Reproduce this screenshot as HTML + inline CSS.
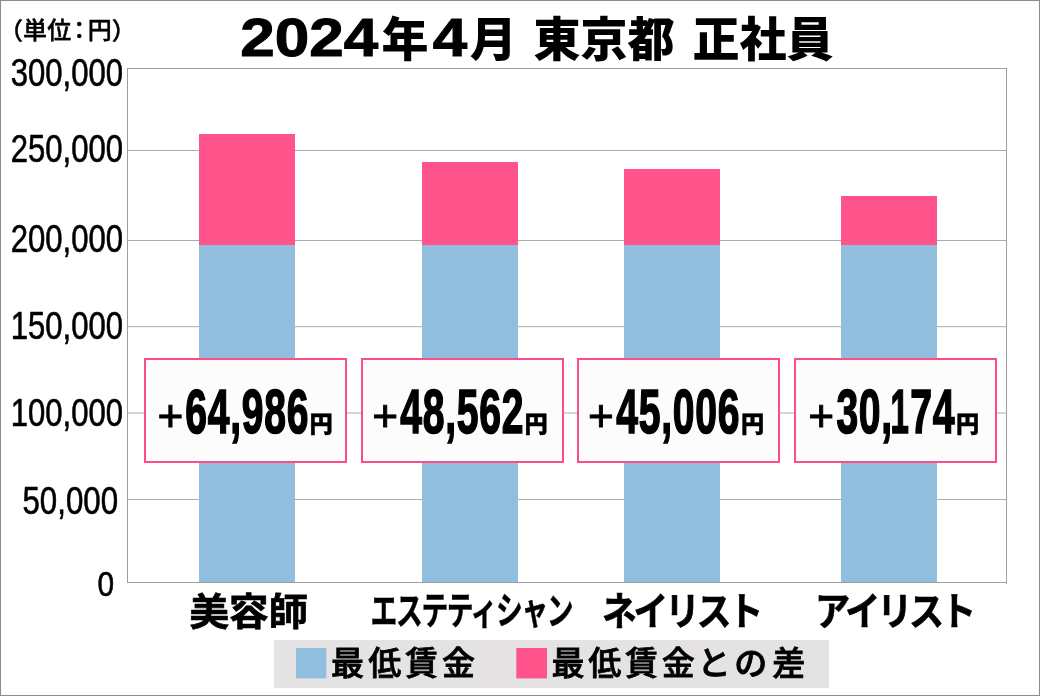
<!DOCTYPE html>
<html lang="ja">
<head>
<meta charset="utf-8">
<title>2024年4月 東京都 正社員</title>
<style>
html,body{margin:0;padding:0;background:#fff;}
body{width:1040px;height:696px;overflow:hidden;}
svg{display:block;}
.lat{font-family:"Liberation Sans",sans-serif;}
.cjk{font-family:"Liberation Sans","Noto Sans CJK JP",sans-serif;}
</style>
</head>
<body>
<svg width="1040" height="696" viewBox="0 0 1040 696">
<rect x="0" y="0" width="1040" height="696" fill="#ffffff"/>

<!-- gridlines -->
<g stroke="#acacac" stroke-width="1" fill="none" shape-rendering="crispEdges">
<line x1="127" y1="68.5" x2="1007" y2="68.5" stroke="#9e9e9e"/>
<line x1="127" y1="150.5" x2="1007" y2="150.5"/>
<line x1="127" y1="240.5" x2="1007" y2="240.5"/>
<line x1="127" y1="326.7" x2="1007" y2="326.7" shape-rendering="auto"/>
<line x1="127" y1="413" x2="1007" y2="413" shape-rendering="auto"/>
<line x1="127" y1="499.5" x2="1007" y2="499.5"/>
<line x1="127.5" y1="68" x2="127.5" y2="583" stroke="#9e9e9e"/>
<line x1="1006.5" y1="68" x2="1006.5" y2="584" stroke="#9e9e9e"/>
</g>

<!-- bars -->
<g shape-rendering="crispEdges">
<rect x="199" y="134" width="96" height="111" fill="#fe548b"/>
<rect x="199" y="245" width="96" height="337.5" fill="#92bede"/>
<rect x="422" y="162" width="96" height="83" fill="#fe548b"/>
<rect x="422" y="245" width="96" height="337.5" fill="#92bede"/>
<rect x="624" y="169" width="96" height="76" fill="#fe548b"/>
<rect x="624" y="245" width="96" height="337.5" fill="#92bede"/>
<rect x="841" y="196" width="96" height="49" fill="#fe548b"/>
<rect x="841" y="245" width="96" height="337.5" fill="#92bede"/>
</g>
<line x1="127" y1="582.5" x2="1007" y2="582.5" stroke="#a0a0a0" stroke-width="1" shape-rendering="crispEdges"/>

<!-- y axis labels -->
<g class="lat" font-size="38.6" fill="#000" text-anchor="end" stroke="#000" stroke-width="0.6">
<text x="123" y="86.3" textLength="112.2" lengthAdjust="spacingAndGlyphs">300,000</text>
<text x="123" y="162.4" textLength="112.2" lengthAdjust="spacingAndGlyphs">250,000</text>
<text x="123" y="252.3" textLength="112.2" lengthAdjust="spacingAndGlyphs">200,000</text>
<text x="123" y="339" textLength="112.2" lengthAdjust="spacingAndGlyphs">150,000</text>
<text x="123" y="425.5" textLength="112.2" lengthAdjust="spacingAndGlyphs">100,000</text>
<text x="118" y="514.4" textLength="95.5" lengthAdjust="spacingAndGlyphs">50,000</text>
<text x="114.2" y="596.1" font-size="35.2" textLength="16.6" lengthAdjust="spacingAndGlyphs">0</text>
</g>

<!-- unit -->
<text class="cjk" font-size="24" font-weight="500" fill="#000" stroke="#000" stroke-width="0.45" y="38.6" x="-1 23 47.3 67.3 87.7 111.7">（単位：円）</text>

<!-- title -->
<text class="cjk" fill="#000" font-weight="900" font-size="47" y="56.3"><tspan class="lat" font-weight="700" font-size="54.5" x="240.3" y="56.2" textLength="138" lengthAdjust="spacingAndGlyphs" stroke="#000" stroke-width="1">2024</tspan><tspan x="381.5" y="56.3">年</tspan><tspan class="lat" font-weight="700" font-size="54.5" x="432.8" y="56.2" textLength="34.5" lengthAdjust="spacingAndGlyphs" stroke="#000" stroke-width="1">4</tspan><tspan x="469.8" y="56.3">月 </tspan><tspan x="533.5" y="56.3" textLength="141" lengthAdjust="spacingAndGlyphs">東京都</tspan><tspan x="674.5" y="56.3"> </tspan><tspan x="692.5" y="56.3" textLength="141" lengthAdjust="spacingAndGlyphs">正社員</tspan></text>

<!-- value boxes -->
<g fill="#fcfcfc" stroke="#fe4c88" stroke-width="2" shape-rendering="crispEdges">
<rect x="145" y="359" width="201" height="103"/>
<rect x="362" y="359" width="201" height="103"/>
<rect x="578" y="359" width="201" height="103"/>
<rect x="795" y="359" width="201" height="103"/>
</g>

<g>
<text class="lat" fill="#000" stroke="#000" y="433"><tspan x="157.5" y="431.1" font-size="44.3" stroke-width="0.9">+</tspan><tspan x="185.2" y="433" font-size="63.6" font-weight="700" stroke-width="1.7" letter-spacing="1.2" textLength="124" lengthAdjust="spacingAndGlyphs">64,986</tspan><tspan class="cjk" x="309.6" y="431.6" font-size="23.2" font-weight="900" stroke-width="0.5">円</tspan></text>
<text class="lat" fill="#000" stroke="#000" y="433"><tspan x="372.3" y="431.1" font-size="44.3" stroke-width="0.9">+</tspan><tspan x="400.2" y="433" font-size="63.6" font-weight="700" stroke-width="1.7" letter-spacing="1.2" textLength="124" lengthAdjust="spacingAndGlyphs">48,562</tspan><tspan class="cjk" x="524.6" y="431.6" font-size="23.2" font-weight="900" stroke-width="0.5">円</tspan></text>
<text class="lat" fill="#000" stroke="#000" y="433"><tspan x="588" y="431.1" font-size="44.3" stroke-width="0.9">+</tspan><tspan x="616.2" y="433" font-size="63.6" font-weight="700" stroke-width="1.7" letter-spacing="1.2" textLength="124" lengthAdjust="spacingAndGlyphs">45,006</tspan><tspan class="cjk" x="741.1" y="431.6" font-size="23.2" font-weight="900" stroke-width="0.5">円</tspan></text>
<text class="lat" fill="#000" stroke="#000" y="433"><tspan x="808.2" y="431.1" font-size="44.3" stroke-width="0.9">+</tspan><tspan x="836.4" y="433" font-size="63.6" font-weight="700" stroke-width="1.7" letter-spacing="1.2" textLength="56.5" lengthAdjust="spacingAndGlyphs">30,</tspan><tspan x="890.6" y="433" font-size="63.6" font-weight="700" stroke-width="1.7" letter-spacing="1.2" textLength="19" lengthAdjust="spacingAndGlyphs">1</tspan><tspan x="910.2" y="433" font-size="63.6" font-weight="700" stroke-width="1.7" letter-spacing="1.2" textLength="45.1" lengthAdjust="spacingAndGlyphs">74</tspan><tspan class="cjk" x="956" y="431.6" font-size="23.2" font-weight="900" stroke-width="0.5">円</tspan></text>
</g>

<!-- category labels -->
<g class="cjk" fill="#000" font-size="39" font-weight="700" stroke="#000" stroke-width="0.7">
<text x="189.4" y="625" font-size="37.5" textLength="118.6" lengthAdjust="spacingAndGlyphs">美容師</text>
<text x="370.6" y="624.4" font-size="38" stroke-width="0.45" letter-spacing="-2" textLength="201.6" lengthAdjust="spacingAndGlyphs">エステティシャン</text>
<text x="602" y="625" letter-spacing="-3.5" textLength="158" lengthAdjust="spacingAndGlyphs">ネイリスト</text>
<text x="815" y="625" letter-spacing="-3.5" textLength="158" lengthAdjust="spacingAndGlyphs">アイリスト</text>
</g>

<!-- legend -->
<rect x="274" y="640" width="555" height="48" fill="#e5e2e3"/>
<rect x="296" y="648" width="30.3" height="30.4" fill="#92bede"/>
<rect x="516.3" y="648" width="30.7" height="30.4" fill="#fe548b"/>
<g class="cjk" fill="#000" font-size="33" font-weight="500" stroke="#000" stroke-width="0.8">
<text y="675.2" x="331 368.2 405.1 442">最低賃金</text>
<text y="675.2" x="551.5 588.2 625 661.8 697.6 734.2 772.3">最低賃金との差</text>
</g>

<!-- outer border -->
<rect x="0.5" y="0.5" width="1039" height="695" fill="none" stroke="#8c8c8c" stroke-width="1"/>
</svg>
</body>
</html>
